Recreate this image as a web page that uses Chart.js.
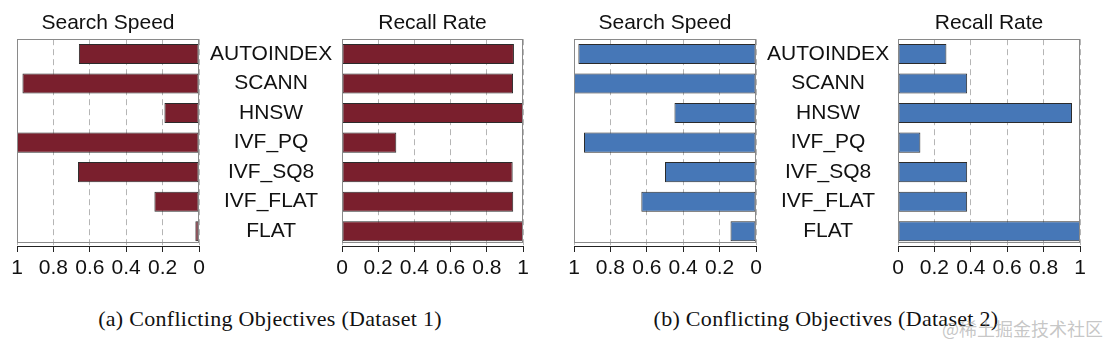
<!DOCTYPE html>
<html>
<head>
<meta charset="utf-8">
<script src="https://cdn.jsdelivr.net/npm/chart.js@4"></script>
<style>
  html, body { margin: 0; padding: 0; background: #fff; }
  body { width: 1108px; height: 344px; position: relative; overflow: hidden; }
  .panel { position: absolute; top: 0; height: 290px; }
  .caption { position: absolute; top: 306px; font-family: "Liberation Serif", "Times New Roman", serif; font-size: 22px; letter-spacing: 0.3px; color: #111; white-space: nowrap; transform: translateX(-50%); }
  .mark { position: absolute; top: 315px; left: 942px; font-family: "Noto Sans CJK SC", sans-serif; font-size: 18px; color: rgba(150,150,150,0.55); white-space: nowrap; }
</style>
</head>
<body>
<div class="panel" style="left:0;width:342px"><canvas id="speed1"></canvas></div>
<div class="panel" style="left:330px;width:205px"><canvas id="recall1"></canvas></div>
<div class="panel" style="left:560px;width:338px"><canvas id="speed2"></canvas></div>
<div class="panel" style="left:886px;width:206px"><canvas id="recall2"></canvas></div>
<div class="caption" style="left:270px">(a) Conflicting Objectives (Dataset 1)</div>
<div class="caption" style="left:826px">(b) Conflicting Objectives (Dataset 2)</div>
<div class="mark">@稀土掘金技术社区</div>
<script>
// index types, top to bottom
const indexTypes = ['AUTOINDEX', 'SCANN', 'HNSW', 'IVF_PQ', 'IVF_SQ8', 'IVF_FLAT', 'FLAT'];
const xTicks = [0, 0.2, 0.4, 0.6, 0.8, 1];

// dataset 1 (normalized)
const speed1 = [0.66, 0.97, 0.19, 1.0, 0.665, 0.245, 0.02];
const recall1 = [0.95, 0.945, 1.0, 0.30, 0.943, 0.946, 1.0];
// dataset 2 (normalized)
const speed2 = [0.976, 1.0, 0.448, 0.945, 0.50, 0.63, 0.14];
const recall2 = [0.266, 0.38, 0.956, 0.123, 0.38, 0.38, 1.0];

const RED = '#7a1f2d';
const BLUE = '#4677b7';
const FONT = '"Liberation Sans", Arial, Helvetica, sans-serif';

// grey frame round the plot area, sits a few px above the black axis line
const framePlugin = {
  id: 'frame',
  afterDatasetsDraw(chart) {
    const a = chart.chartArea;
    const ctx = chart.ctx;
    ctx.save();
    ctx.strokeStyle = '#8a8a8a';
    ctx.lineWidth = 1;
    ctx.strokeRect(Math.round(a.left) + 0.5, Math.round(a.top) + 0.5,
      Math.round(a.right - a.left) - 1, Math.round(a.bottom - a.top) - 4);
    ctx.restore();
  }
};

function makePanel(id, values, color, opts) {
  return new Chart(document.getElementById(id), {
    type: 'bar',
    data: {
      labels: indexTypes,
      datasets: [{
        data: values,
        backgroundColor: color,
        borderColor: '#2b2b2b',
        borderWidth: 1,
        borderSkipped: false,
        barPercentage: 0.68,
        categoryPercentage: 1,
      }],
    },
    options: {
      indexAxis: 'y',
      responsive: false,
      animation: false,
      events: [],
      layout: { padding: { left: opts.padLeft, right: opts.padRight, top: 0, bottom: 0 } },
      plugins: {
        legend: { display: false },
        tooltip: { enabled: false },
        title: {
          display: true,
          text: opts.title,
          fullSize: false,
          color: '#111',
          font: { family: FONT, size: 21, weight: 'normal', lineHeight: 1.2 },
          padding: { top: 11, bottom: 3 },
        },
      },
      scales: {
        x: {
          min: 0,
          max: 1,
          reverse: opts.reverse,
          afterBuildTicks: s => { s.ticks = xTicks.map(v => ({ value: v })); },
          afterFit: s => { s.height = 44; },
          ticks: {
            color: '#111',
            padding: 4,
            maxRotation: 0,
            font: { family: FONT, size: 21 },
            callback: v => String(Math.round(v * 10) / 10),
          },
          grid: {
            color: '#b5b5b5',
            lineWidth: 1,
            tickLength: 6,
            tickColor: '#222',
            tickBorderDash: [],
          },
          border: { display: true, color: '#222', width: 1, dash: [6, 4] },
        },
        y: {
          position: 'right',
          display: opts.showLabels,
          afterFit: s => { s.width = opts.axisWidth || s.width; },
          ticks: {
            color: '#111',
            crossAlign: 'center',
            padding: 11,
            font: { family: FONT, size: 21 },
          },
          grid: { display: false, drawTicks: false },
          border: { display: false },
        },
      },
    },
    plugins: [framePlugin],
  });
}

function sizeCanvas(id, w, h) {
  const c = document.getElementById(id);
  c.width = w; c.height = h;
  c.style.width = w + 'px'; c.style.height = h + 'px';
}

sizeCanvas('speed1', 342, 290);
sizeCanvas('recall1', 205, 290);
sizeCanvas('speed2', 338, 290);
sizeCanvas('recall2', 206, 290);

makePanel('speed1', speed1, RED, { title: 'Search Speed', reverse: true, showLabels: true, axisWidth: 143, padLeft: 17, padRight: 0 });
makePanel('recall1', recall1, RED, { title: 'Recall Rate', reverse: false, showLabels: false, padLeft: 12, padRight: 12 });
makePanel('speed2', speed2, BLUE, { title: 'Search Speed', reverse: true, showLabels: true, axisWidth: 142, padLeft: 14, padRight: 0 });
makePanel('recall2', recall2, BLUE, { title: 'Recall Rate', reverse: false, showLabels: false, padLeft: 12, padRight: 12 });
</script>
</body>
</html>
